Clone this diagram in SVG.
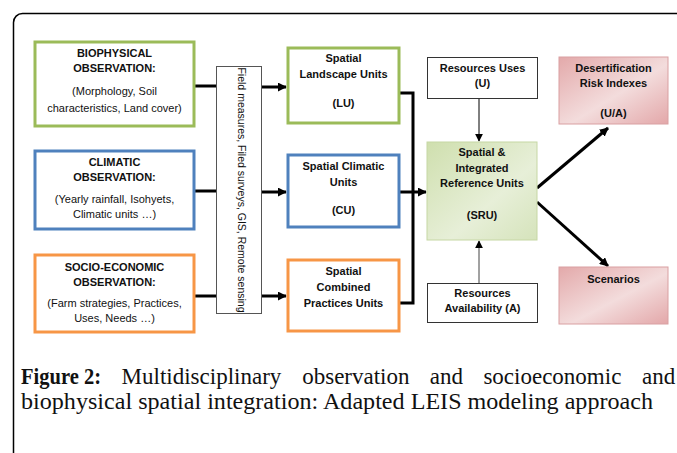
<svg xmlns="http://www.w3.org/2000/svg" width="677" height="453" viewBox="0 0 677 453">
<style>
.b{font-family:"Liberation Sans",Arial,sans-serif;font-size:11px;font-weight:bold;fill:#111;text-anchor:middle}
.r{font-family:"Liberation Sans",Arial,sans-serif;font-size:11px;fill:#111;text-anchor:middle}
.box{fill:#fff;stroke-width:3}
.thin{fill:#fff;stroke:#333;stroke-width:1}
.thick{stroke:#000;stroke-width:3;fill:none}
.cap{font-family:"Liberation Serif","Times New Roman",serif;font-size:23px;fill:#111}
</style>
<defs>
<marker id="ah" viewBox="0 0 10 10" refX="9" refY="5" markerWidth="9" markerHeight="9" markerUnits="userSpaceOnUse" orient="auto">
<path d="M0,0 L10,5 L0,10 z" fill="#000"/>
</marker>
<marker id="ahs" viewBox="0 0 10 10" refX="9" refY="5" markerWidth="8" markerHeight="8" markerUnits="userSpaceOnUse" orient="auto">
<path d="M0,0 L10,5 L0,10 z" fill="#000"/>
</marker>
<linearGradient id="gg" x1="0" y1="0" x2="1" y2="1">
<stop offset="0" stop-color="#cfdfae"/>
<stop offset="0.6" stop-color="#e7efd8"/>
<stop offset="1" stop-color="#d5e3bb"/>
</linearGradient>
<linearGradient id="pg" x1="0" y1="0" x2="1" y2="1">
<stop offset="0" stop-color="#e3a9aa"/>
<stop offset="0.55" stop-color="#f3dcdc"/>
<stop offset="1" stop-color="#e3a7a9"/>
</linearGradient>
</defs>
<rect x="13.5" y="13.5" width="700" height="470" rx="9" fill="#fff" stroke="#000" stroke-width="1.5"/>

<g id="connectors">
<line class="thick" x1="195" y1="86" x2="216" y2="86"/>
<line class="thick" x1="195" y1="191" x2="216" y2="191"/>
<line class="thick" x1="195" y1="296" x2="216" y2="296"/>
<line class="thick" x1="262" y1="87" x2="286" y2="87" marker-end="url(#ah)"/>
<line class="thick" x1="262" y1="192" x2="286" y2="192" marker-end="url(#ah)"/>
<line class="thick" x1="262" y1="296" x2="286" y2="296" marker-end="url(#ah)"/>
<polyline class="thick" points="400,93 413,93 413,303 400,303"/>
<line class="thick" x1="400" y1="192" x2="426" y2="192" marker-end="url(#ah)"/>
<line x1="479" y1="99" x2="479" y2="141" stroke="#000" stroke-width="1" marker-end="url(#ahs)"/>
<line x1="479" y1="283" x2="479" y2="241" stroke="#444" stroke-width="1" marker-end="url(#ahs)"/>
<line class="thick" x1="537" y1="188" x2="608" y2="128" marker-end="url(#ah)"/>
<line class="thick" x1="537" y1="202" x2="608" y2="266" marker-end="url(#ah)"/>
</g>

<g id="biophysical">
<rect class="box" x="35" y="42" width="159" height="84" stroke="#9bbb59"/>
<text class="b" x="114.5" y="57">BIOPHYSICAL</text>
<text class="b" x="114.5" y="72">OBSERVATION:</text>
<text class="r" x="114.5" y="95">(Morphology, Soil</text>
<text class="r" x="114.5" y="112">characteristics, Land cover)</text>
</g>
<g id="climatic">
<rect class="box" x="35" y="151" width="159" height="78" stroke="#4f81bd"/>
<text class="b" x="114.5" y="166">CLIMATIC</text>
<text class="b" x="114.5" y="181">OBSERVATION:</text>
<text class="r" x="114.5" y="203">(Yearly rainfall, Isohyets,</text>
<text class="r" x="114.5" y="218">Climatic units …)</text>
</g>
<g id="socio">
<rect class="box" x="35" y="255" width="159" height="77" stroke="#f79646"/>
<text class="b" x="114.5" y="271">SOCIO-ECONOMIC</text>
<text class="b" x="114.5" y="286">OBSERVATION:</text>
<text class="r" x="114.5" y="307">(Farm strategies, Practices,</text>
<text class="r" x="114.5" y="322">Uses, Needs …)</text>
</g>
<g id="field">
<rect x="216.5" y="66.5" width="45" height="247" fill="#fff" stroke="#555" stroke-width="1"/>
<text class="r" style="font-size:10.5px" transform="translate(238,190) rotate(90)" x="0" y="0">Field measures, Filed surveys, GIS, Remote sensing</text>
</g>
<g id="lu">
<rect class="box" x="288" y="48" width="111" height="75" stroke="#9bbb59"/>
<text class="b" x="343.5" y="62">Spatial</text>
<text class="b" x="343.5" y="78">Landscape Units</text>
<text class="b" x="343.5" y="107">(LU)</text>
</g>
<g id="cu">
<rect class="box" x="288" y="155" width="111" height="72" stroke="#4f81bd"/>
<text class="b" x="343.5" y="170">Spatial Climatic</text>
<text class="b" x="343.5" y="186">Units</text>
<text class="b" x="343.5" y="214">(CU)</text>
</g>
<g id="cpu">
<rect class="box" x="288" y="260" width="111" height="71" stroke="#f79646"/>
<text class="b" x="343.5" y="275">Spatial</text>
<text class="b" x="343.5" y="291">Combined</text>
<text class="b" x="343.5" y="307">Practices Units</text>
</g>
<g id="uses">
<rect class="thin" x="427.5" y="57.5" width="110" height="41"/>
<text class="b" x="482.5" y="72">Resources Uses</text>
<text class="b" x="482.5" y="87">(U)</text>
</g>
<g id="sru">
<rect x="427" y="142" width="110" height="98" fill="url(#gg)" stroke="#c6d7a4" stroke-width="1"/>
<text class="b" x="482" y="156">Spatial &amp;</text>
<text class="b" x="482" y="172">Integrated</text>
<text class="b" x="482" y="187">Reference Units</text>
<text class="b" x="482" y="219">(SRU)</text>
</g>
<g id="avail">
<rect class="thin" x="427.5" y="283.5" width="110" height="39"/>
<text class="b" x="482.5" y="297">Resources</text>
<text class="b" x="482.5" y="312">Availability (A)</text>
</g>
<g id="desert">
<rect x="559" y="57" width="109" height="67" fill="url(#pg)" stroke="#d9a0a2" stroke-width="1"/>
<text class="b" x="613.5" y="72">Desertification</text>
<text class="b" x="613.5" y="87">Risk Indexes</text>
<text class="b" x="613.5" y="117">(U/A)</text>
</g>
<g id="scen">
<rect x="559" y="267" width="109" height="57" fill="url(#pg)" stroke="#d9a0a2" stroke-width="1"/>
<text class="b" x="613.5" y="283">Scenarios</text>
</g>

<g id="caption">
<text class="cap" y="384"><tspan x="21" font-weight="bold" textLength="80" lengthAdjust="spacingAndGlyphs">Figure 2:</tspan><tspan x="121.6">Multidisciplinary</tspan><tspan x="302.2">observation</tspan><tspan x="429.8">and</tspan><tspan x="483.4">socioeconomic</tspan><tspan x="642">and</tspan></text>
<text class="cap" x="21" y="409" textLength="632" lengthAdjust="spacingAndGlyphs">biophysical spatial integration: Adapted LEIS modeling approach</text>
</g>
</svg>
